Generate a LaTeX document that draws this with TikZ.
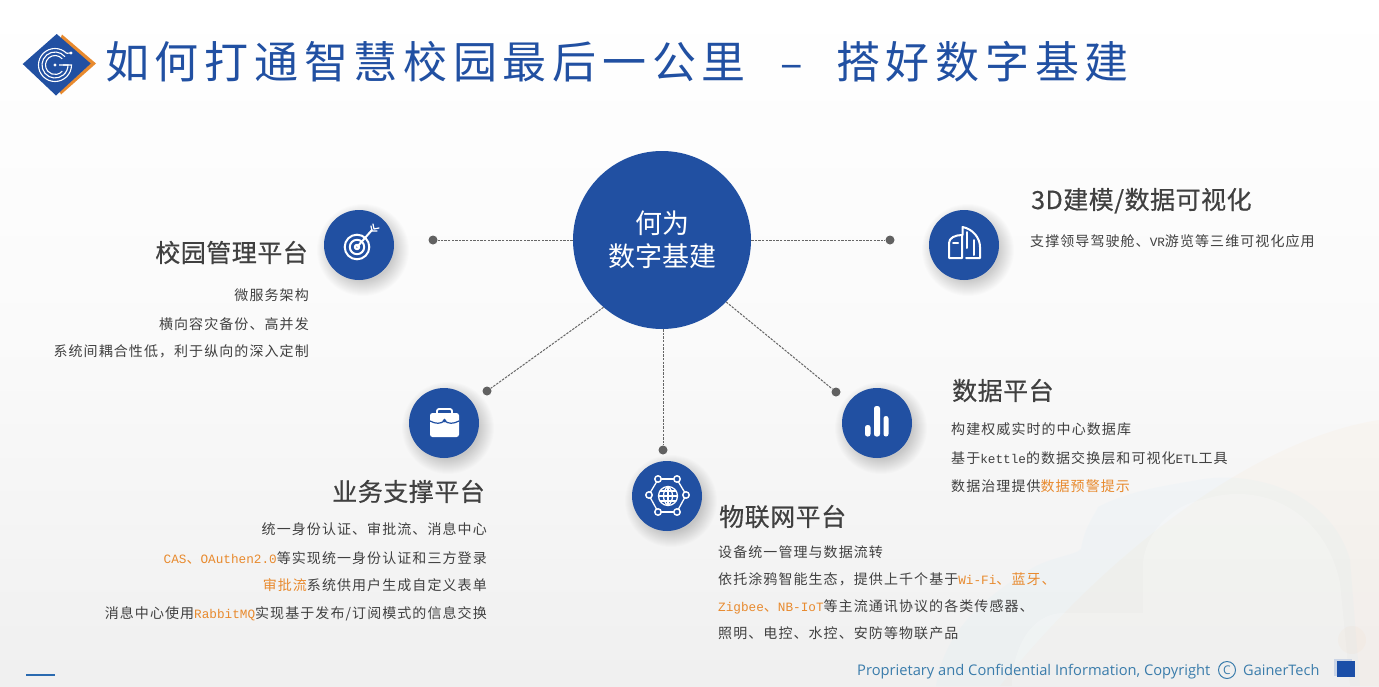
\documentclass[tikz,border=0pt]{standalone}
\usepackage{fontspec}
\setmainfont{Noto Sans CJK SC}
\newfontfamily\titlef[LetterSpace=13]{Noto Sans CJK SC}
\newfontfamily\headf[LetterSpace=2,FakeBold=0.5]{Noto Sans CJK SC}
\newfontfamily\bodyf[LetterSpace=7.7]{Noto Sans CJK SC}
\newfontfamily\latf{Liberation Mono}
\newfontfamily\footf{Open Sans}
\definecolor{blueM}{HTML}{2150A2}
\definecolor{orangeT}{HTML}{E88A2E}
\definecolor{inkT}{HTML}{404040}
\definecolor{footT}{HTML}{3A7CAB}
\definecolor{squareB}{HTML}{1B4FA8}
\definecolor{lineB}{HTML}{2A6AB0}
\newcommand{\lat}[1]{{\latf\fontsize{12.7}{14}\selectfont #1}}
\newcommand{\hlt}[1]{\textcolor{orangeT}{#1}}
\tikzset{
  hubnode/.style={circle,fill=blueM,minimum size=178pt,inner sep=0pt,text=white,align=center},
  sat/.style={circle,fill=blueM,minimum size=70pt,inner sep=0pt},
  dotn/.style={circle,fill=black!62,minimum size=9pt,inner sep=0pt},
  conn/.style={black!60,line width=1pt,dash pattern=on 2.4pt off 1.2pt},
  headt/.style={text=inkT,inner sep=0pt,font=\headf\fontsize{25}{30}\selectfont},
  bodyt/.style={text=inkT,inner sep=0pt,font=\bodyf\fontsize{14}{16}\selectfont},
  icon/.style={white,line width=2pt,line cap=round,line join=round}
}
\newcommand{\softshadow}[3]{%
  \foreach \k in {0,...,15}{
    \fill[black,opacity=0.012] (#1+4,#2+5) circle[radius=#3+11-\k];
  }}
\begin{document}
\begin{tikzpicture}[x=1pt,y=-1pt]
\useasboundingbox (0,0) rectangle (1379,686);
\begin{scope}
\clip (0,0) rectangle (1379,686);
\shade[top color=white,bottom color=black!6,middle color=black!2] (0,0) rectangle (1379,686);
% warm tint and clouds
\fill[orange!35,opacity=.08] (1000,686) .. controls (1100,560) and (1250,440) .. (1379,420) -- (1379,686) -- cycle;
\fill[blue!30!cyan!40,opacity=.05] (936,686) .. controls (942,650) and (960,610) .. (1036,566)
  .. controls (1060,555) and (1075,555) .. (1081,549)
  .. controls (1085,525) and (1095,515) .. (1098,507)
  .. controls (1130,490) and (1170,485) .. (1198,480)
  .. controls (1250,470) and (1330,490) .. (1350,560)
  -- (1360,686) -- cycle;
\fill[white,opacity=.2] (1012,686) .. controls (1012,650) and (1030,613) .. (1064,613)
  -- (1143,613) -- (1143,563) .. controls (1145,535) and (1170,505) .. (1202,500)
  .. controls (1260,480) and (1325,510) .. (1340,583) -- (1350,686) -- cycle;
\fill[orange!50,opacity=.05] (1352,640) circle[radius=14];
\end{scope}
% logo
\fill[orangeT] (62,34.5) -- (96,63.5) -- (61,94.5) -- (50,70) -- cycle;
\fill[blueM] (22.7,64) -- (56.7,34) -- (90.7,63.5) -- (56,95.5) -- cycle;
\begin{scope}[white,line width=1.1pt]
\draw (55,65) ++(-45:16.5) arc[start angle=-45,end angle=-360,radius=16.5] -- (63,65);
\draw (55,65) ++(-40:13) arc[start angle=-40,end angle=-360,radius=13] -- (59,65);
\draw (55,65) ++(-40:9.5) arc[start angle=-40,end angle=-320,radius=9.5];
\draw (66.7,53.3) -- (70,53);
\fill (71,53) circle[radius=1.7];
\fill (55,65) circle[radius=1.7];
\end{scope}
\node[anchor=base west,inner sep=0pt,text=blueM,font=\titlef\fontsize{44}{50}\selectfont] (titlea) at (105,78) {如何打通智慧校园最后一公里};
\node[anchor=base west,inner sep=0pt,text=blueM,font=\fontsize{42}{50}\selectfont] (titleb) at (780,78) {–};
\node[anchor=base west,inner sep=0pt,text=blueM,font=\titlef\fontsize{44}{50}\selectfont] (titlec) at (836,78) {搭好数字基建};
% shadows
\softshadow{359}{245}{35}
\softshadow{964}{245}{35}
\softshadow{444}{423}{35}
\softshadow{667}{496}{35}
\softshadow{877}{423}{35}
% hub and satellites
\node[hubnode,font=\fontsize{27}{33}\selectfont] (hub) at (662,240) {何为\\数字基建};
\node[sat] (target) at (359,245) {};
\node[sat] (building) at (964,245) {};
\node[sat] (case) at (444,423) {};
\node[sat] (globe) at (667,496) {};
\node[sat] (bars) at (877,423) {};
\node[dotn] (d1) at (433,240) {};
\node[dotn] (d2) at (890,240) {};
\node[dotn] (d3) at (487,391) {};
\node[dotn] (d4) at (663,450) {};
\node[dotn] (d5) at (836,392) {};
\draw[conn] (hub.180) -- (d1);
\draw[conn] (hub.0) -- (d2);
\draw[conn] (hub.229.5) -- (d3);
\draw[conn] (hub.south -| d4) -- (d4);
\draw[conn] (hub.316) -- (d5);
% icon target
\begin{scope}[icon]
\draw (357,247) circle[radius=12.3];
\draw (357,247) circle[radius=7.2];
\draw (357,247) circle[radius=2.2];
\draw (357,247) -- (372,230);
\draw[line width=1.2pt] (371,226) -- (372,231) -- (377,231);
\draw[line width=1.2pt] (373,224) -- (374,229) -- (379,228);
\end{scope}
% icon building
\begin{scope}[icon]
\draw (962,258) -- (949,258) -- (949,243) .. controls (949,238) and (955,235) .. (962,235) -- (962,258);
\draw (966,258) -- (980,258) -- (980,247) .. controls (980,238) and (973,229) .. (962.5,227) -- (962.5,235);
\draw (953,243) -- (958,243);
\draw (967,232) -- (967,248);
\draw (974,240) -- (974,255);
\end{scope}
% icon briefcase
\begin{scope}
\draw[white,line width=1.8pt,rounded corners=2pt] (437,414) -- (437,409) -- (452,409) -- (452,414);
\fill[white,rounded corners=2.5pt] (430,413) rectangle (459,437);
\draw[blueM,line width=1.2pt] (430,421) .. controls (436,424) and (440,424) .. (444.5,421) .. controls (449,424) and (453,424) .. (459,421);
\fill[blueM] (444.5,420.5) circle[radius=1.9];
\end{scope}
% icon globe
\begin{scope}[icon,line width=1.3pt]
\draw (668,496) circle[radius=9.5];
\draw (668,486.5) -- (668,505.5);
\draw (658.5,496) -- (677.5,496);
\draw (660,491) -- (676,491);
\draw (660,501) -- (676,501);
\draw (668,486.5) .. controls (662,491) and (662,501) .. (668,505.5);
\draw (668,486.5) .. controls (674,491) and (674,501) .. (668,505.5);
\foreach \a/\b in {658/479,677/479,649/495,686/495,658/512,677/512}{\draw[line width=1.5pt] (\a,\b) circle[radius=3.2];}
\draw (661.5,479) -- (673.5,479);
\draw (661.5,512) -- (673.5,512);
\draw (650.5,492) -- (656.5,482);
\draw (684.5,492) -- (678.5,482);
\draw (650.5,498) -- (656.5,509);
\draw (684.5,498) -- (678.5,509);
\end{scope}
% icon bars
\fill[white,rounded corners=2.4pt] (865,425) rectangle (870.5,436.5);
\fill[white,rounded corners=2.4pt] (874,406) rectangle (880,436.5);
\fill[white,rounded corners=2.4pt] (883.5,416) rectangle (888.5,436.5);
% texts
\node[headt,anchor=base east] (h1) at (308,262) {校园管理平台};
\node[bodyt,anchor=base east] (t1a) at (309,300) {微服务架构};
\node[bodyt,anchor=base east] (t1b) at (309,329) {横向容灾备份、高并发};
\node[bodyt,anchor=base east] (t1c) at (309,356) {系统间耦合性低，利于纵向的深入定制};
\node[headt,anchor=base east] (h2) at (485,501) {业务支撑平台};
\node[bodyt,anchor=base east] (t2a) at (487,534) {统一身份认证、审批流、消息中心};
\node[bodyt,anchor=base east] (t2b) at (487,563) {\hlt{\lat{CAS}、\lat{OAuthen2.0}}等实现统一身份认证和三方登录};
\node[bodyt,anchor=base east] (t2c) at (487,590) {\hlt{审批流}系统供用户生成自定义表单};
\node[bodyt,anchor=base east] (t2d) at (487,618) {消息中心使用\hlt{\lat{RabbitMQ}}实现基于发布/订阅模式的信息交换};
\node[headt,anchor=base west] (h3) at (719,526) {物联网平台};
\node[bodyt,anchor=base west] (t3a) at (718,557) {设备统一管理与数据流转};
\node[bodyt,anchor=base west] (t3b) at (718,584) {依托涂鸦智能生态，提供上千个基于\hlt{\lat{Wi-Fi}、蓝牙、}};
\node[bodyt,anchor=base west] (t3c) at (718,611) {\hlt{\lat{Zigbee}、\lat{NB-IoT}}等主流通讯协议的各类传感器、};
\node[bodyt,anchor=base west] (t3d) at (718,638) {照明、电控、水控、安防等物联产品};
\node[headt,anchor=base west] (h4) at (952,400) {数据平台};
\node[bodyt,anchor=base west] (t4a) at (951,434) {构建权威实时的中心数据库};
\node[bodyt,anchor=base west] (t4b) at (951,463) {基于\lat{kettle}的数据交换层和可视化\lat{ETL}工具};
\node[bodyt,anchor=base west] (t4c) at (951,491) {数据治理提供\hlt{数据预警提示}};
\node[headt,anchor=base west] (h5) at (1031,209) {3D建模/数据可视化};
\node[bodyt,anchor=base west] (t5a) at (1030,246) {支撑领导驾驶舱、\lat{VR}游览等三维可视化应用};
% footer
\node[anchor=base west,inner sep=0pt,text=footT,font=\footf\fontsize{14.7}{16}\selectfont] (foot) at (857,675) {Proprietary and Confidential Information, Copyright};
\node[circle,draw=footT,line width=1pt,minimum size=17pt,inner sep=0pt,text=footT,font=\footf\fontsize{12}{14}\selectfont] (copy) at (1227,670) {C};
\node[anchor=base west,inner sep=0pt,text=footT,font=\footf\fontsize{14.5}{16}\selectfont] (gainer) at (1243,675) {GainerTech};
\fill[blueM!30,opacity=.7] (1334,659) rectangle (1352,676);
\fill[squareB] (1337,661) rectangle (1355,677);
\draw[lineB,line width=2.5pt] (26,675) -- (55,675);
\end{tikzpicture}
\end{document}
